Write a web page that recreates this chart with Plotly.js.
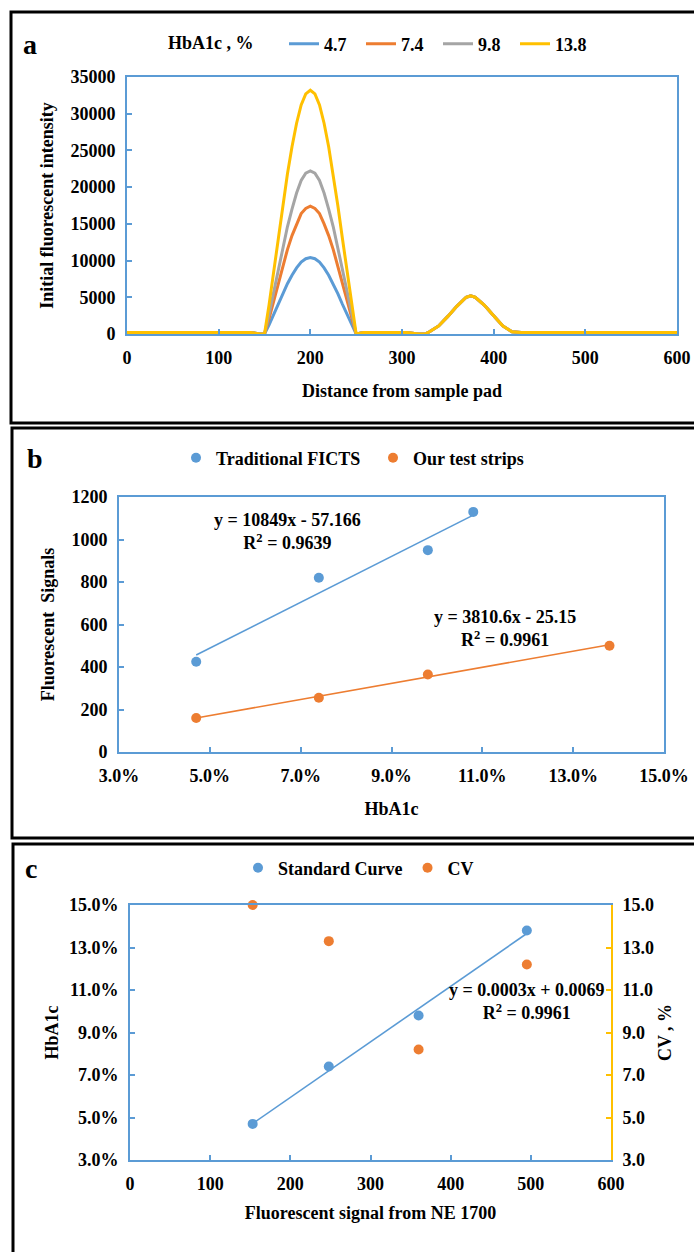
<!DOCTYPE html>
<html><head><meta charset="utf-8">
<script src="https://cdn.plot.ly/plotly-3.0.1.min.js"></script>
<style>html,body{margin:0;padding:0;background:#fff}#chart{width:694px;height:1252px}</style>
</head><body><div id="chart"></div>
<script>
// ---------- Panel a : fluorescence profiles ----------
const DIST = [0,135,145,150,155,160,165,170,175,180,185,190,195,200,205,210,215,220,225,230,235,240,245,250,258,305,318,325,330,340,350,360,370,375,380,390,400,410,420,430,600];
const HBA1C_LEVELS = ['4.7','7.4','9.8','13.8'];
const INT_4_7  = [200,200,0,0,1250,2650,4050,5500,6850,8000,9000,9800,10250,10400,10250,9800,9000,8000,6850,5500,4050,2650,1250,0,200,200,0,0,300,1100,2400,3800,5000,5200,5000,3900,2500,1100,300,200,200];
const INT_7_4  = [200,200,0,0,2100,4400,6800,9200,11500,13400,15000,16400,17100,17400,17100,16400,15000,13400,11500,9200,6800,4400,2100,0,200,200,0,0,300,1100,2400,3800,5000,5200,5000,3900,2500,1100,300,200,200];
const INT_9_8  = [200,200,0,0,2700,5700,8700,11700,14600,17000,19200,20900,21900,22200,21900,20900,19200,17000,14600,11700,8700,5700,2700,0,200,200,0,0,300,1100,2400,3800,5000,5200,5000,3900,2500,1100,300,200,200];
const INT_13_8 = [200,200,0,0,4000,8500,13000,17500,21800,25500,28700,31200,32700,33200,32700,31200,28700,25500,21800,17500,13000,8500,4000,0,200,200,0,0,300,1100,2400,3800,5000,5200,5000,3900,2500,1100,300,200,200];

// ---------- Panel b : signal vs HbA1c ----------
const B_X_TRAD = [0.047, 0.074, 0.098, 0.108];
const B_Y_TRAD = [425, 820, 950, 1130];
const B_X_OURS = [0.047, 0.074, 0.098, 0.138];
const B_Y_OURS = [160, 255, 365, 500];
const B_EQ_TRAD = 'y = 10849x - 57.166<br>R<sup>2</sup> = 0.9639';
const B_EQ_OURS = 'y = 3810.6x - 25.15<br>R<sup>2</sup> = 0.9961';

// ---------- Panel c : standard curve & CV ----------
const C_SIGNAL = [153, 248, 360, 495];
const C_HBA1C  = [0.047, 0.074, 0.098, 0.138];
const C_CV     = [15.0, 13.3, 8.2, 12.2];
const C_EQ     = 'y = 0.0003x + 0.0069<br>R<sup>2</sup> = 0.9961';

const BLUE='#5B9BD5', ORANGE='#ED7D31', GRAY='#A5A5A5', YELLOW='#FFC000';
const FAM='Liberation Serif, Times New Roman, serif';
const F = (s)=>({family:FAM,size:s,color:'#000',weight:'bold'});

function fit(xs, ys){
  const n=xs.length; const mx=xs.reduce((a,b)=>a+b,0)/n; const my=ys.reduce((a,b)=>a+b,0)/n;
  let sxy=0,sxx=0; for(let i=0;i<n;i++){sxy+=(xs[i]-mx)*(ys[i]-my); sxx+=(xs[i]-mx)**2;}
  const m=sxy/sxx, b=my-m*mx; const x0=Math.min(...xs), x1=Math.max(...xs);
  return {x:[x0,x1], y:[m*x0+b, m*x1+b]};
}

const traces = [];
const aSeries=[INT_4_7,INT_7_4,INT_9_8,INT_13_8], aCols=[BLUE,ORANGE,GRAY,YELLOW];
aSeries.forEach((ys,i)=>traces.push({x:DIST,y:ys,name:HBA1C_LEVELS[i],type:'scatter',mode:'lines',
  line:{color:aCols[i],width:3},xaxis:'x',yaxis:'y',legend:'legend'}));

const fT=fit(B_X_TRAD,B_Y_TRAD), fO=fit(B_X_OURS,B_Y_OURS);
traces.push({x:fT.x,y:fT.y,mode:'lines',line:{color:BLUE,width:1.6},xaxis:'x2',yaxis:'y2',showlegend:false,hoverinfo:'skip'});
traces.push({x:fO.x,y:fO.y,mode:'lines',line:{color:ORANGE,width:1.6},xaxis:'x2',yaxis:'y2',showlegend:false,hoverinfo:'skip'});
traces.push({x:B_X_TRAD,y:B_Y_TRAD,name:'Traditional FICTS',mode:'markers',marker:{color:BLUE,size:10},xaxis:'x2',yaxis:'y2',legend:'legend2',cliponaxis:false});
traces.push({x:B_X_OURS,y:B_Y_OURS,name:'Our test strips',mode:'markers',marker:{color:ORANGE,size:10},xaxis:'x2',yaxis:'y2',legend:'legend2',cliponaxis:false});

const fC=fit(C_SIGNAL,C_HBA1C);
traces.push({x:fC.x,y:fC.y,mode:'lines',line:{color:BLUE,width:1.6},xaxis:'x3',yaxis:'y3',showlegend:false,hoverinfo:'skip'});
traces.push({x:C_SIGNAL,y:C_HBA1C,name:'Standard Curve',mode:'markers',marker:{color:BLUE,size:10},xaxis:'x3',yaxis:'y3',legend:'legend3',cliponaxis:false});
traces.push({x:C_SIGNAL,y:C_CV,name:'CV',mode:'markers',marker:{color:ORANGE,size:10},xaxis:'x3',yaxis:'y4',legend:'legend3',cliponaxis:false});

const W=694,H=1252;
const px=(v)=>v/W, py=(v)=>1-v/H;
const ax=(o)=>Object.assign({showline:true,linecolor:BLUE,linewidth:2,mirror:true,ticks:'inside',ticklen:5,tickwidth:2,
  tickcolor:BLUE,showgrid:false,zeroline:false,tickfont:F(18),ticklabelstandoff:6},o);

const layout={
  width:W,height:H,margin:{l:0,r:0,t:0,b:0},paper_bgcolor:'#fff',plot_bgcolor:'rgba(0,0,0,0)',
  font:F(18),showlegend:true,
  xaxis:ax({domain:[px(127),px(677)],range:[0,600],dtick:100,anchor:'y',title:{text:'Distance from sample pad',font:F(18),standoff:18}}),
  yaxis:ax({domain:[py(334),py(77)],range:[0,35000],dtick:5000,tickformat:'d',anchor:'x',title:{text:'Initial fluorescent intensity',font:F(18),standoff:12}}),
  xaxis2:ax({domain:[px(119),px(664)],range:[0.03,0.15],dtick:0.02,tick0:0.03,tickformat:'.1%',anchor:'y2',title:{text:'HbA1c',font:F(18),standoff:18}}),
  yaxis2:ax({domain:[py(752),py(497)],range:[0,1200],dtick:200,anchor:'x2',title:{text:'Fluorescent&nbsp; Signals',font:F(18),standoff:12}}),
  xaxis3:ax({domain:[px(130),px(611)],range:[0,600],dtick:100,anchor:'y3',title:{text:'Fluorescent signal from NE 1700',font:F(18),standoff:14}}),
  yaxis3:ax({domain:[py(1160),py(905)],range:[0.03,0.15],dtick:0.02,tick0:0.03,tickformat:'.1%',anchor:'x3',mirror:false,title:{text:'HbA1c',font:F(18),standoff:6}}),
  yaxis4:ax({overlaying:'y3',side:'right',anchor:'x3',range:[3,15],dtick:2,tick0:3,tickformat:'.1f',linecolor:YELLOW,tickcolor:YELLOW,mirror:false,title:{text:'CV , %',font:F(18),standoff:5}}),
  legend:{orientation:'h',x:px(166),xanchor:'left',y:py(44),yanchor:'middle',font:F(18),bgcolor:'rgba(0,0,0,0)',
    title:{text:'HbA1c , %&nbsp;&nbsp;&nbsp;&nbsp;&nbsp;',font:F(18),side:'left'},entrywidth:32,entrywidthmode:'pixels',tracegroupgap:0},
  legend2:{orientation:'h',x:px(176),xanchor:'left',y:py(458),yanchor:'middle',font:F(18),bgcolor:'rgba(0,0,0,0)',entrywidth:152,entrywidthmode:'pixels'},
  legend3:{orientation:'h',x:px(238),xanchor:'left',y:py(868),yanchor:'middle',font:F(18),bgcolor:'rgba(0,0,0,0)'},
  annotations:[
    {text:'a',xref:'paper',yref:'paper',x:px(30),y:py(45),xanchor:'center',yanchor:'middle',showarrow:false,font:F(28)},
    {text:'b',xref:'paper',yref:'paper',x:px(35),y:py(458),xanchor:'center',yanchor:'middle',showarrow:false,font:F(28)},
    {text:'c',xref:'paper',yref:'paper',x:px(31),y:py(868),xanchor:'center',yanchor:'middle',showarrow:false,font:F(28)},
    {text:B_EQ_TRAD,xref:'x2',yref:'y2',x:0.067,y:1040,showarrow:false,font:F(18)},
    {text:B_EQ_OURS,xref:'x2',yref:'y2',x:0.115,y:581,showarrow:false,font:F(18)},
    {text:C_EQ,xref:'x3',yref:'y3',x:495,y:0.1044,showarrow:false,font:F(18)}
  ],
  shapes:[
    {type:'rect',xref:'paper',yref:'paper',x0:px(11),x1:1.02,y0:py(423),y1:py(12),line:{color:'#000',width:3}},
    {type:'rect',xref:'paper',yref:'paper',x0:px(12),x1:1.02,y0:py(838),y1:py(428),line:{color:'#000',width:3}},
    {type:'rect',xref:'paper',yref:'paper',x0:px(13),x1:1.02,y0:-0.02,y1:py(844),line:{color:'#000',width:3}}
  ]
};
Plotly.newPlot('chart',traces,layout,{displayModeBar:false,staticPlot:true});
</script></body></html>
